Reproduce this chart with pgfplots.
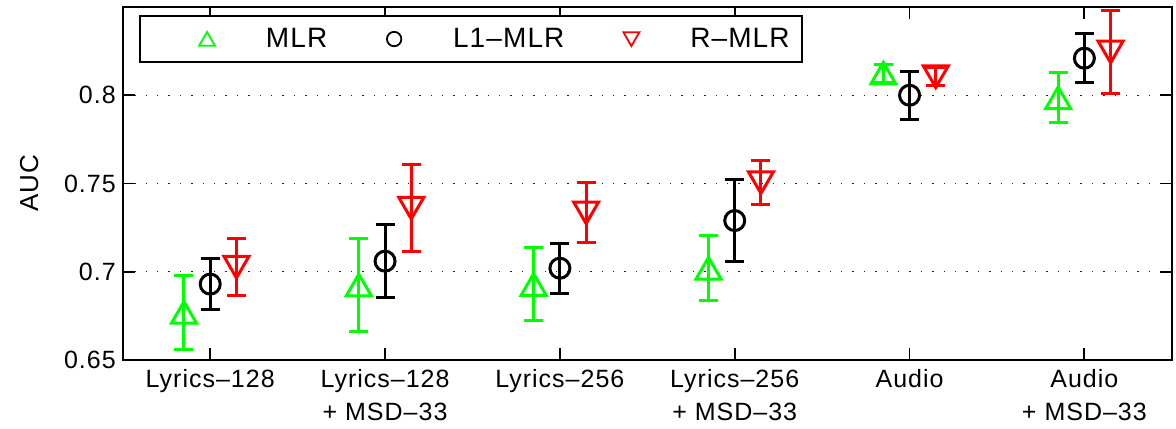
\documentclass[border=0pt]{standalone}
\usepackage{fontspec}
\setmainfont{Liberation Sans}[LetterSpace=4]
\usepackage{pgfplots}
\pgfplotsset{compat=1.18}
\usepackage{pgfplotstable}
\definecolor{mgreen}{RGB}{0,255,0}
\definecolor{mred}{RGB}{255,0,0}

\pgfplotstableread{
x y e
0.85 0.677 0.021
1.85 0.6925 0.0264
2.85 0.6928 0.0207
3.85 0.702 0.0185
4.85 0.8125 0.005
5.85 0.7985 0.0142
}\mlr
\pgfplotstableread{
x y e
1 0.693 0.0145
2 0.706 0.0206
3 0.702 0.0142
4 0.729 0.0232
5 0.800 0.0135
6 0.821 0.0139
}\lone
\pgfplotstableread{
x y e
1.15 0.7026 0.016
2.15 0.736 0.0247
3.15 0.7334 0.017
4.15 0.7505 0.0125
5.15 0.8105 0.005
6.15 0.8245 0.0237
}\rmlr

\begin{document}
\begin{tikzpicture}
\useasboundingbox (-61.4pt,-34pt) rectangle (526.6pt,180pt);
\begin{axis}[
  scale only axis, width=524.5pt, height=176.5pt,
  xmin=0.5, xmax=6.5, ymin=0.65, ymax=0.85,
  xtick={1,2,3,4,5,6},
  xticklabels={Lyrics–128, {Lyrics–128\\+ MSD–33}, Lyrics–256, {Lyrics–256\\+ MSD–33}, Audio, {Audio\\+ MSD–33}},
  ytick={0.65,0.7,0.75,0.8},
  yticklabels={0.65,0.7,0.75,0.8},
  xticklabel style={align=center, font=\fontsize{12.5}{16.8}\selectfont, yshift=-1pt},
  yticklabel style={font=\fontsize{12.5}{15}\selectfont},
  ylabel={AUC},
  ylabel style={font=\fontsize{13}{15}\selectfont, at={(axis description cs:0,0.5)}, anchor=center, yshift=46.8pt},
  ymajorgrids,
  grid style={black!85, line width=0.7pt, dash pattern=on 0.7pt off 5pt},
  axis line style={line width=0.9pt},
  major tick length=6pt,
  tick style={black, line width=0.9pt},
  tick align=inside,
  legend columns=3,
  legend style={at={(0,1)}, anchor=north west, xshift=8.2pt, yshift=-4pt,
    font=\fontsize{14}{16}\selectfont, line width=0.9pt, inner sep=3pt,
    nodes={inner sep=3pt}},
  legend image code/.code={\path (0pt,0pt) (56pt,0pt);
    \draw[mark repeat=2,mark phase=2] plot coordinates {(0pt,0pt)(30pt,0pt)(60pt,0pt)};},
  error bars/y dir=both, error bars/y explicit,
  error bars/error mark=|,
  error bars/error bar style={line width=1.5pt},
  error bars/error mark options={line width=1.5pt, mark size=4.75pt},
]
\addplot[mgreen, only marks, mark=triangle, mark size=7.2pt, line width=1.5pt,
  mark options={yshift=-1.8pt},
  legend image post style={mark size=4.6pt, line width=0.9pt, mark options={yshift=-1.1pt}}]
  table[x=x, y=y, y error=e] {\mlr};
\addlegendentry{MLR}
\addplot[black, only marks, mark=o, mark size=5pt, line width=1.5pt,
  legend image post style={mark size=3.6pt, line width=0.9pt}]
  table[x=x, y=y, y error=e] {\lone};
\addlegendentry{L1–MLR}
\addplot[mred, only marks, mark=triangle, mark size=7.2pt, line width=1.5pt,
  mark options={rotate=180, yshift=-1.8pt},
  legend image post style={mark size=4.6pt, line width=0.9pt, mark options={rotate=180, yshift=-1.1pt}}]
  table[x=x, y=y, y error=e] {\rmlr};
\addlegendentry{R–MLR}
\end{axis}
\end{tikzpicture}
\end{document}
